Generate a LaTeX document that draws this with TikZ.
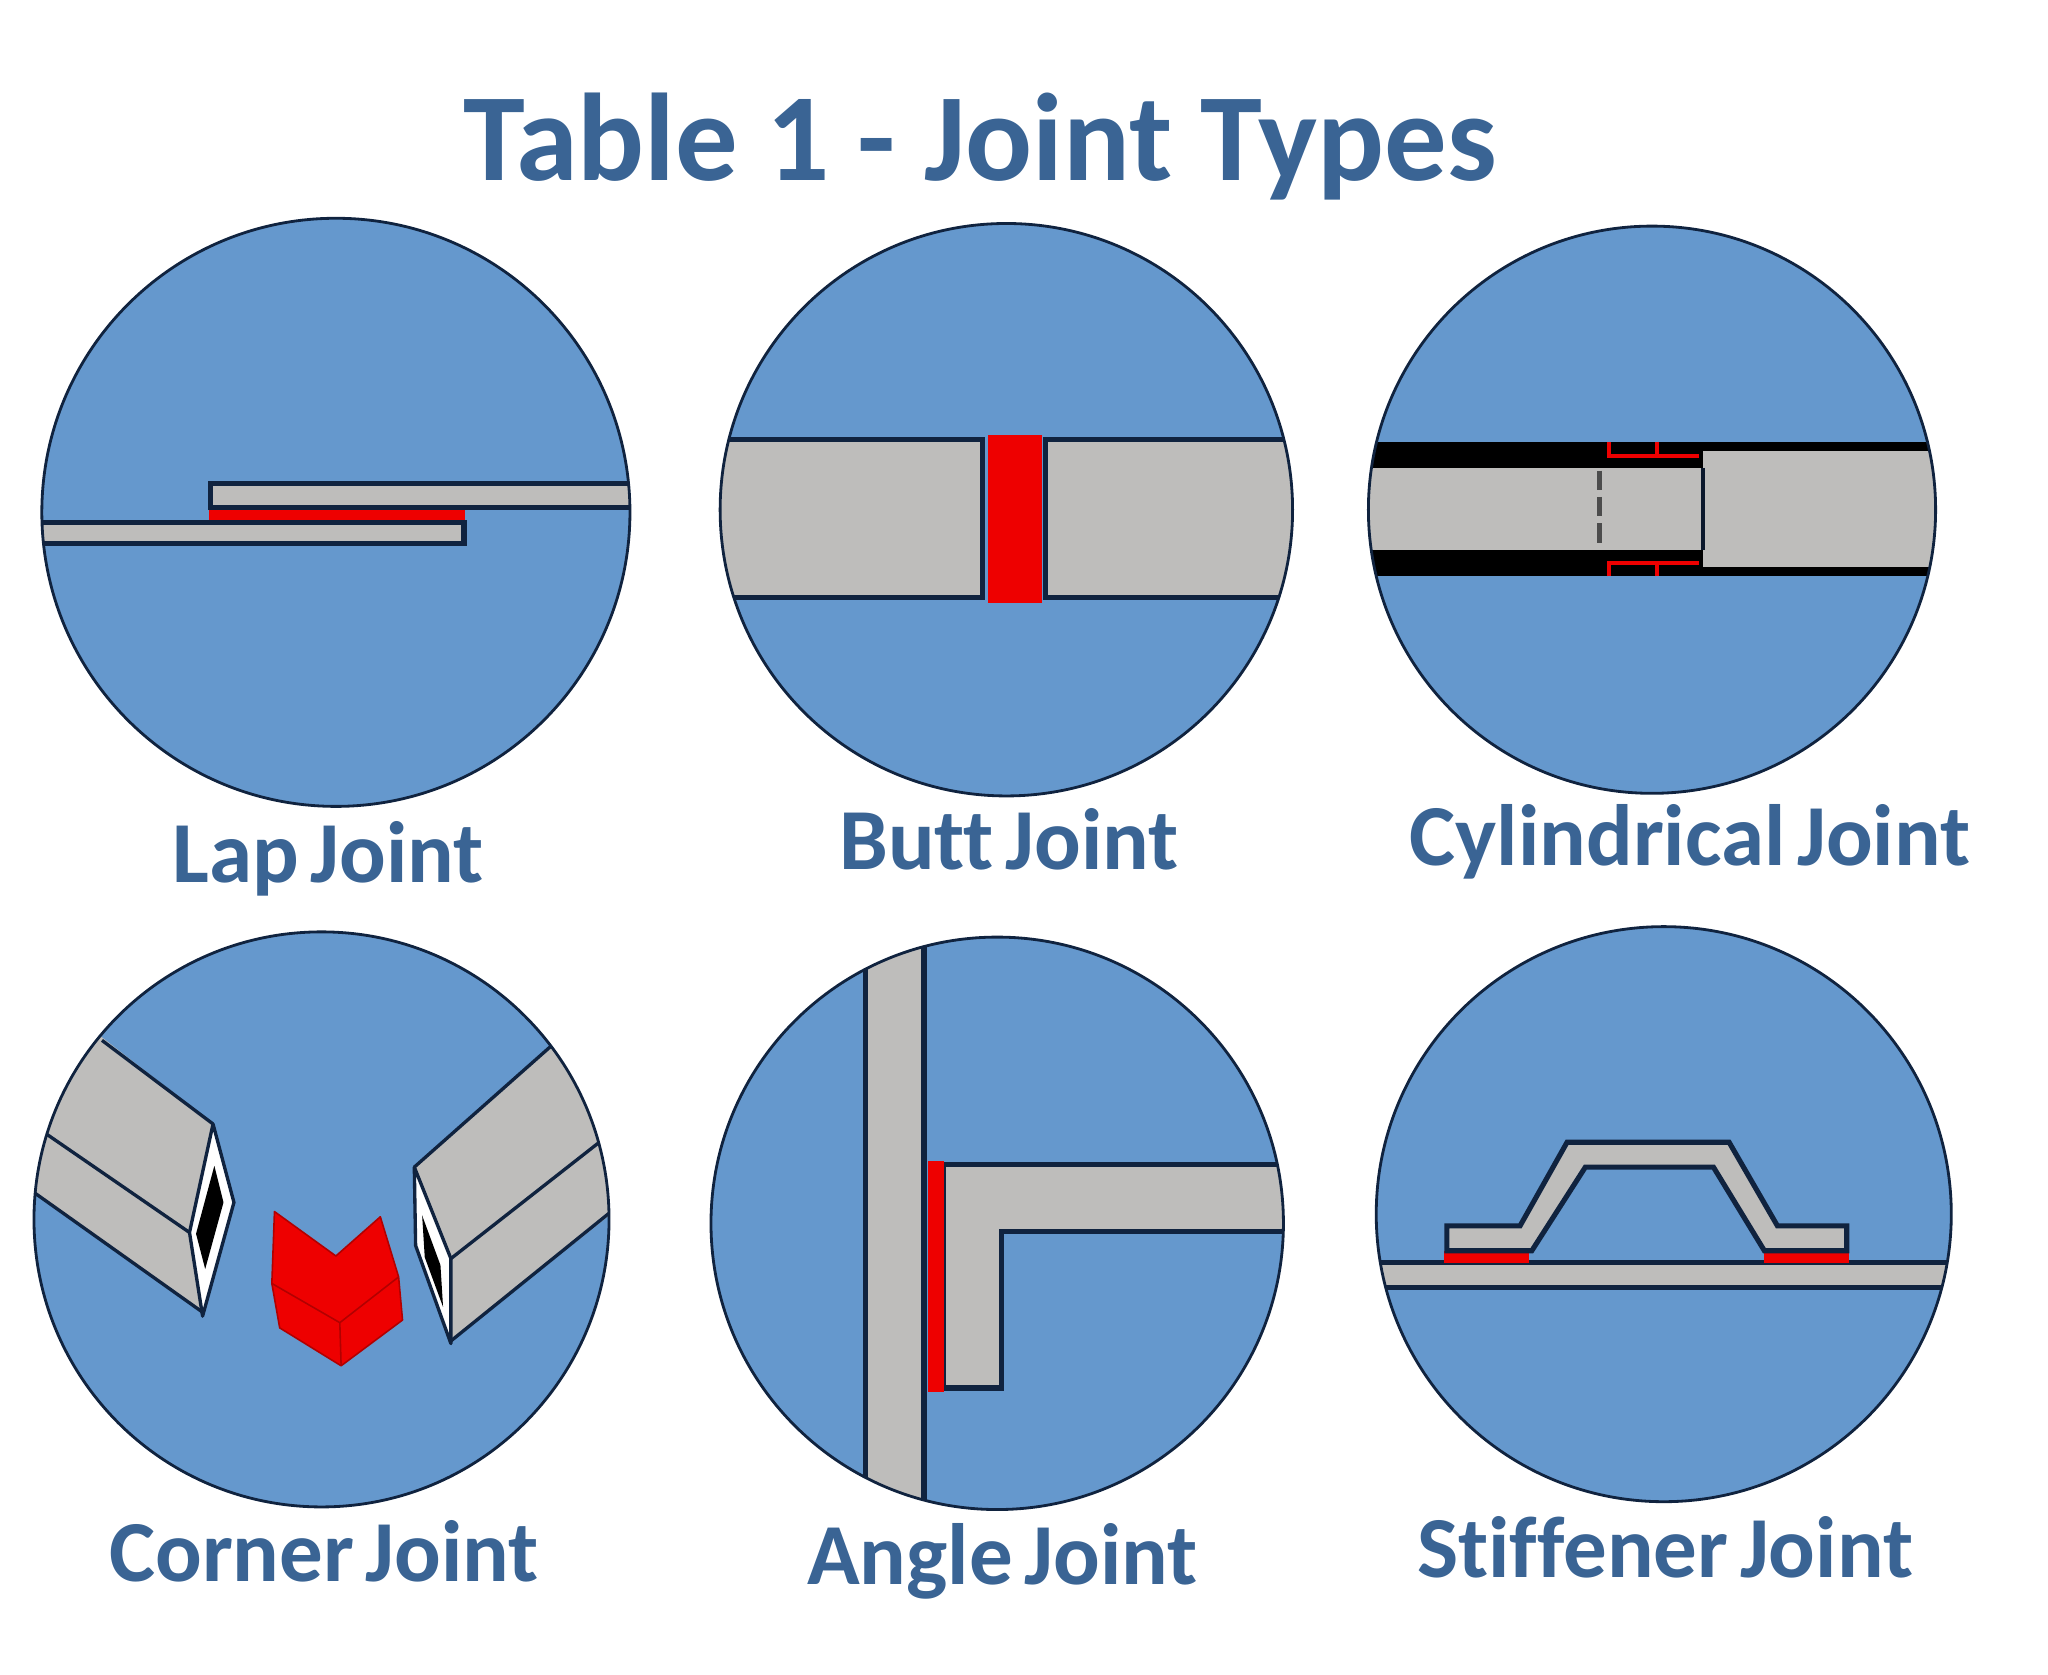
\documentclass[tikz,border=0pt]{standalone}
\usepackage{fontspec}
\setmainfont[Ligatures=NoCommon]{Carlito}
\newfontfamily\jointfamily[WordSpace=0.6,Ligatures=NoCommon]{Carlito}
\usepackage{xcolor}
\usetikzlibrary{positioning}
\definecolor{discblue}{HTML}{6598CD}
\definecolor{plategrey}{HTML}{BEBDBB}
\definecolor{weldred}{HTML}{EE0000}
\definecolor{inkblue}{HTML}{10233F}
\definecolor{textblue}{HTML}{3A6494}

\begin{document}
\begin{tikzpicture}[
	x=0.02614cm,y=-0.02614cm,
	plate/.style={draw=inkblue,fill=plategrey,line width=2.9pt,line join=miter},
	thinplate/.style={draw=inkblue,fill=plategrey,line width=1.9pt,line join=round},
	weld/.style={fill=weldred},
	disc/.style={fill=discblue},
	rim/.style={draw=inkblue,line width=1.6pt},
	jointname/.style={text=textblue,font=\fontsize{49.5}{54}\selectfont\jointfamily\bfseries,anchor=base},
	tabletitle/.style={text=textblue,font=\fontsize{71}{75}\selectfont\bfseries,anchor=base}]
	\useasboundingbox (0,0) rectangle (1567,1281.6);
	\node[tabletitle] (title) at (750,138) {Table 1 - Joint Types};

	\foreach \cx/\cy/\cr in {257/392/225,770/390/219,1264/390/217,246/933/220,763/936/219,1273/929/220}
		\fill[disc] (\cx,\cy) circle (\cr);

	% lap
	\begin{scope}
		\clip (257,392) circle (225);
		\fill[weld] (160,386) rectangle (356,400);
		\draw[plate] (520,370) -- (161,370) -- (161,388) -- (520,388);
		\draw[plate] (0,400) -- (355,400) -- (355,416) -- (0,416);
	\end{scope}
	% butt
	\begin{scope}
		\clip (770,390) circle (219);
		\draw[plate] (520,336) -- (752,336) -- (752,457) -- (520,457);
		\draw[plate] (1020,336) -- (800,336) -- (800,457) -- (1020,457);
		\fill[weld] (756,333) rectangle (797,461);
	\end{scope}
	% cylindrical
	\begin{scope}
		\clip (1264,390) circle (217);
		\fill[plategrey] (1040,350) rectangle (1303,425);
		\fill[plategrey] (1303,345) rectangle (1490,435);
		\fill[black] (1040,338) rectangle (1228,358);
		\fill[black] (1040,421) rectangle (1228,441);
		\fill[black] (1228,338) rectangle (1490,345);
		\fill[black] (1228,434) rectangle (1490,441);
		\fill[black] (1228,345) rectangle (1303,358);
		\fill[black] (1228,421) rectangle (1303,434);
		\draw[inkblue!70!black,line width=2.4pt] (1303,358) -- (1303,421);
		\draw[black!70,line width=2.6pt,dash pattern=on 11pt off 4pt] (1224,360) -- (1224,418);
		\draw[weldred,line width=2.5pt] (1231,338) -- (1231,349) -- (1300,349);
		\draw[weldred,line width=2.5pt] (1268,338) -- (1268,349);
		\draw[weldred,line width=2.5pt] (1231,441) -- (1231,431) -- (1300,431);
		\draw[weldred,line width=2.5pt] (1268,441) -- (1268,431);
	\end{scope}
	% corner
	\begin{scope}
		\clip (246,933) circle (220);
		\begin{scope}[shift={(0,4)}]
			\fill[plategrey] (40,760) -- (163,856) -- (145,939) -- (155,1000) -- (0,890) -- cycle;
			\draw[thinplate,fill=none] (78,792) -- (163,856);
			\draw[thinplate,fill=none] (20,853) -- (145,939);
			\draw[thinplate,fill=none] (10,897) -- (155,1000);
			\fill[plategrey] (440,780) -- (317,889) -- (345,959) -- (345,1022) -- (480,915) -- (500,860) -- cycle;
			\draw[thinplate,fill=none] (430,789) -- (317,889);
			\draw[thinplate,fill=none] (470,861) -- (345,959);
			\draw[thinplate,fill=none] (480,913) -- (345,1022);
		\end{scope}
	\end{scope}
	\begin{scope}[shift={(0,4)}]
		\draw[thinplate,fill=white] (163,856) -- (179,916) -- (155,1003) -- (145,939) -- cycle;
		\fill[black] (164,888) -- (171,916) -- (157,967) -- (150,940) -- cycle;
		\draw[thinplate,fill=white] (317,889) -- (345,959) -- (345,1024) -- (318,949) -- cycle;
		\fill[black] (323,926) -- (337,964) -- (339,996) -- (325,958) -- cycle;
		\draw[weld,draw=red!70!black,line width=0.9pt,line join=round] (210,923) -- (257,957) -- (291,927) -- (305,973) -- (308,1006) -- (261,1041) -- (214,1012) -- (208,978) -- cycle;
		\draw[red!70!black,line width=0.9pt] (208,978) -- (260,1008) -- (305,973) (260,1008) -- (261,1041);
	\end{scope}
	% angle
	\begin{scope}
		\clip (763,936) circle (219);
		\fill[plategrey] (662,700) rectangle (707,1180);
		\draw[plate] (662,700) -- (662,1180) (707,700) -- (707,1180);
		\draw[plate] (1000,891) -- (722,891) -- (722,1062) -- (766,1062) -- (766,942) -- (1000,942);
		\fill[weld] (710,888) rectangle (722,1065);
	\end{scope}
	% stiffener
	\begin{scope}
		\clip (1273,929) circle (220);
		\draw[plate] (1040,966) -- (1510,966) -- (1510,985) -- (1040,985) -- cycle;
		\fill[weld] (1105,957) rectangle (1170,966);
		\fill[weld] (1350,957) rectangle (1415,966);
		\draw[plate] (1107,957) -- (1107,938) -- (1163,938) -- (1199,874) -- (1323,874) -- (1360,938) -- (1413,938) -- (1413,957) -- (1350,957) -- (1311,893) -- (1213,893) -- (1172,957) -- cycle;
	\end{scope}

	\foreach \cx/\cy/\cr in {257/392/225,770/390/219,1264/390/217,246/933/220,763/936/219,1273/929/220}
		\draw[rim] (\cx,\cy) circle (\cr);

	\node[jointname] (lap) at (251,675) {Lap Joint};
	\node[jointname] (butt) at (772,665) {Butt Joint};
	\node[jointname] (cylindrical) at (1293,662) {Cylindrical Joint};
	\node[jointname] (corner) at (248,1210) {Corner Joint};
	\node[jointname] (angle) at (767,1212) {Angle Joint};
	\node[jointname] (stiffener) at (1274,1207) {Stiffener Joint};
\end{tikzpicture}
\end{document}
